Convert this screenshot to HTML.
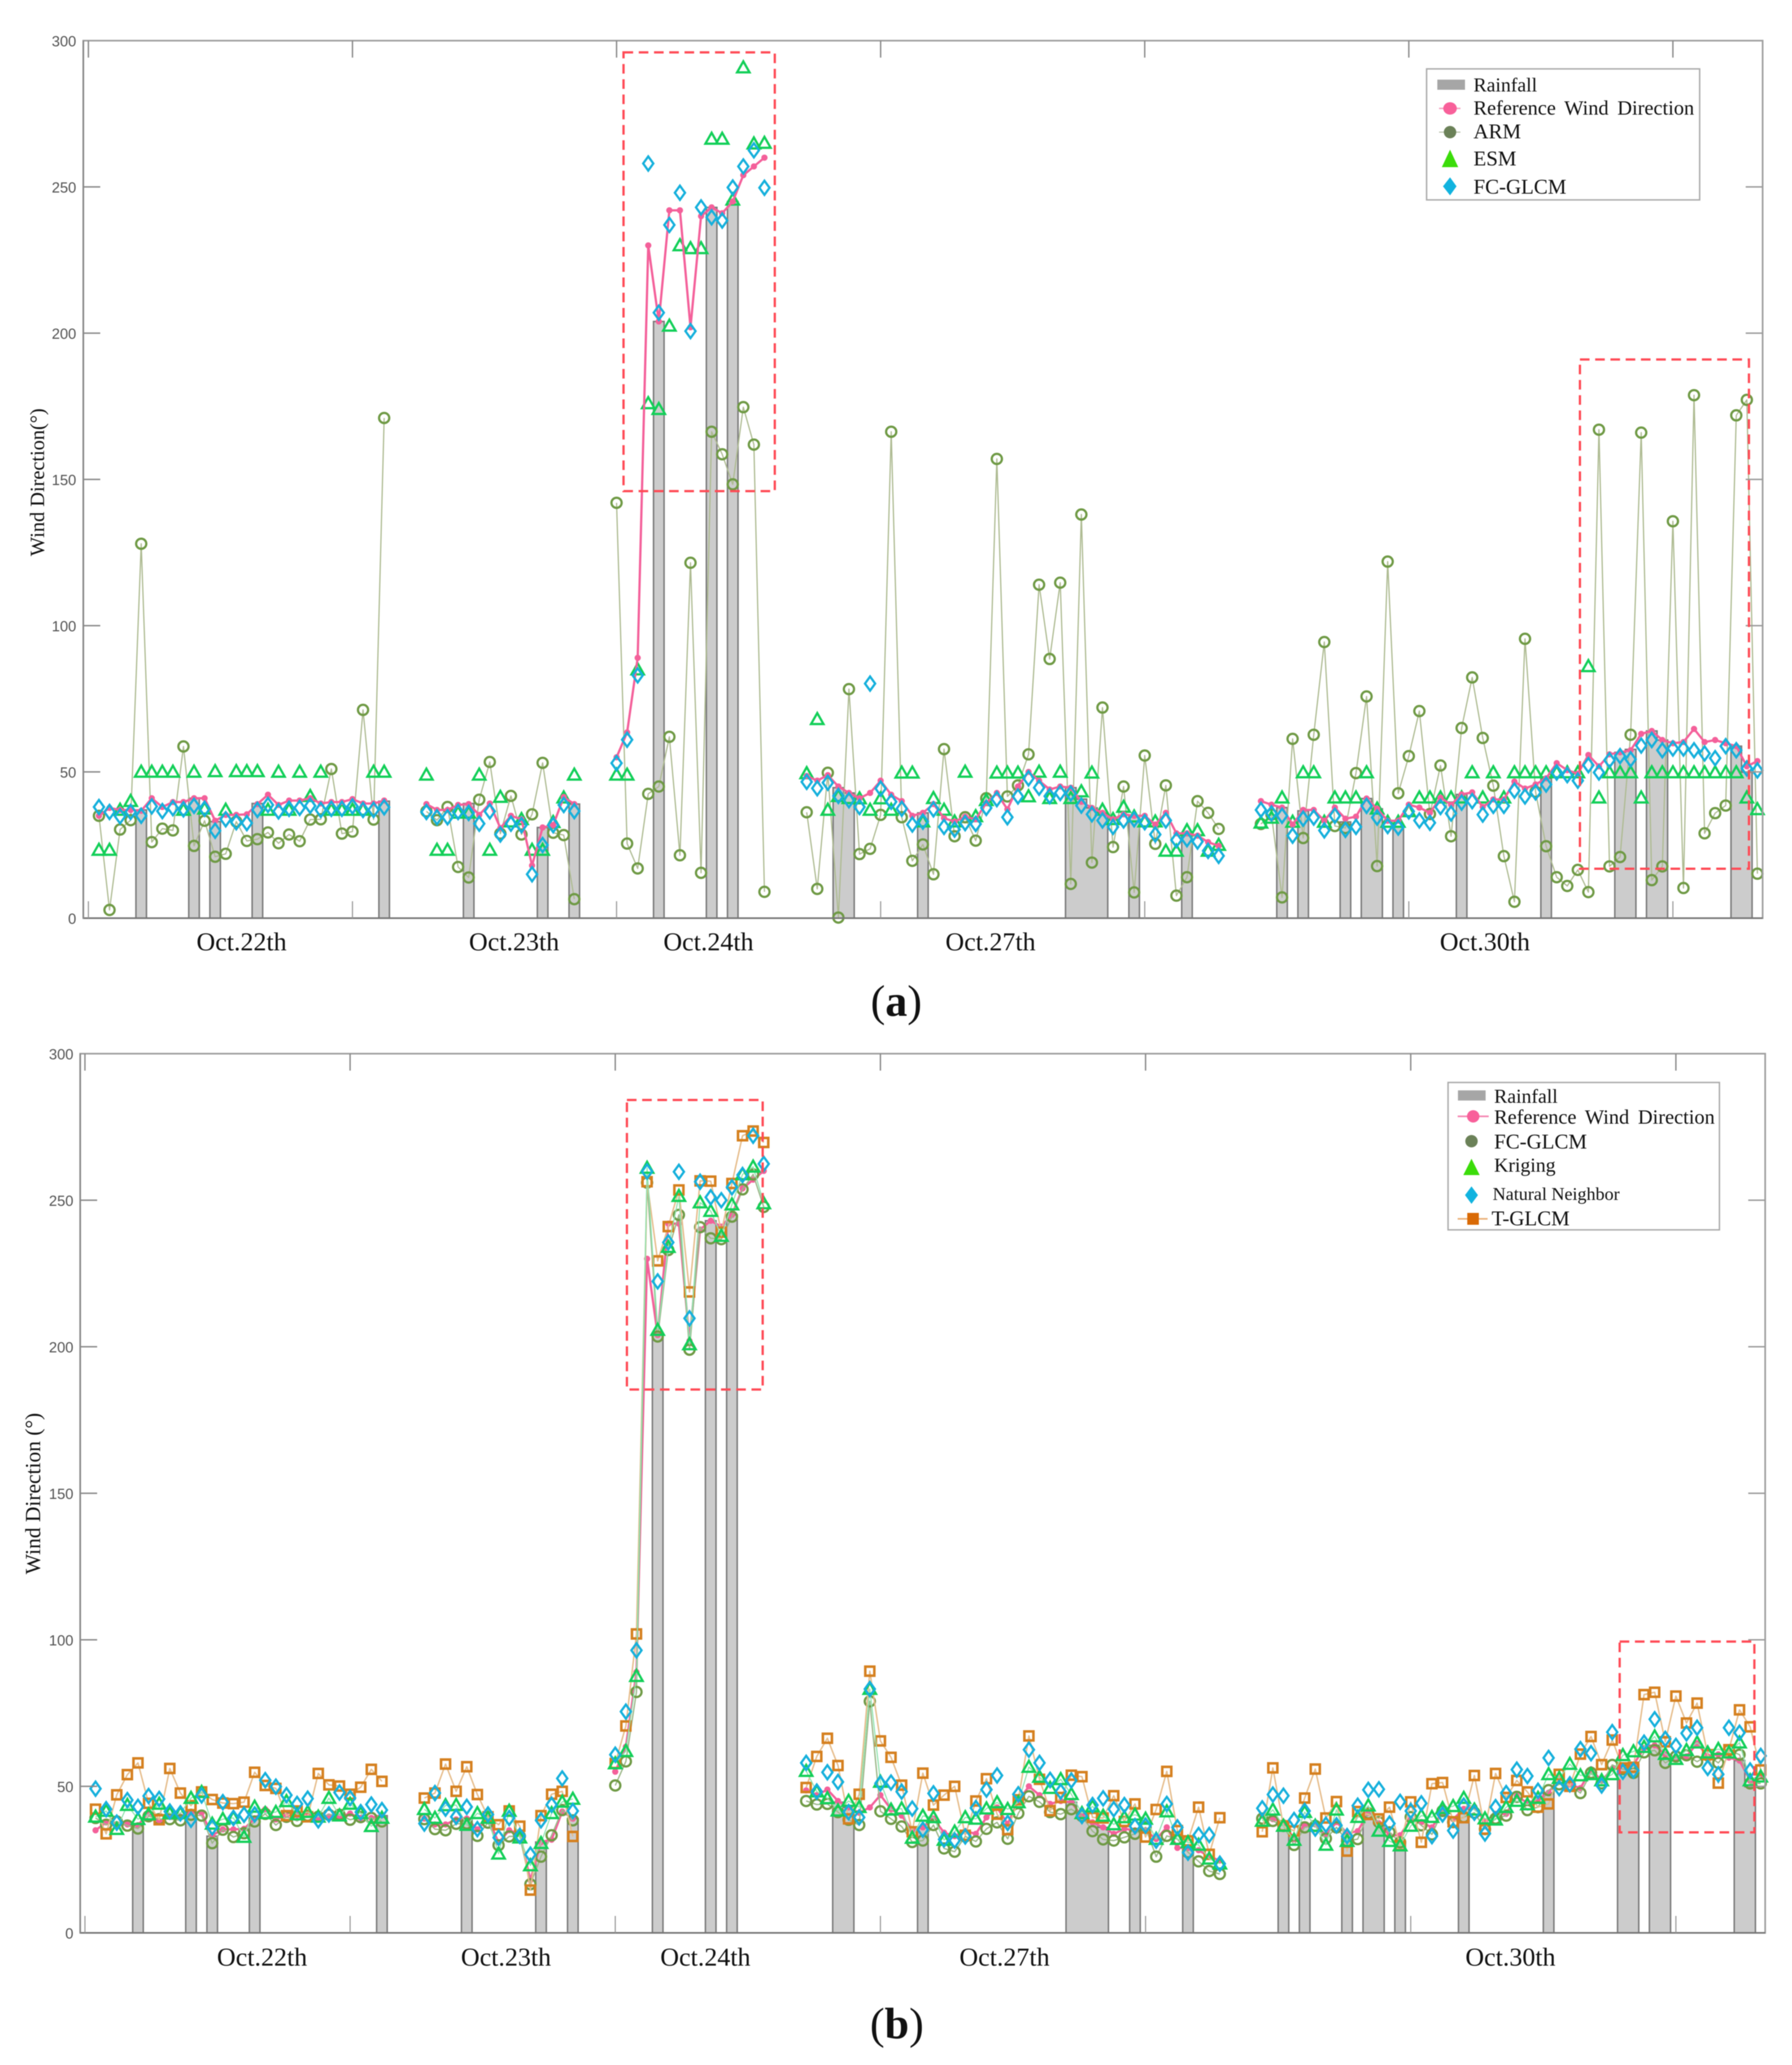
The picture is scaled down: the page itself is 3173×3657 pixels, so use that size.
<!DOCTYPE html>
<html lang="en">
<head>
<meta charset="utf-8">
<title>Wind Direction Comparison</title>
<style>
html,body{margin:0;padding:0;background:#fff;width:3173px;height:3657px;overflow:hidden}
svg{display:block;filter:blur(0.8px)}
.serif{font-family:"Liberation Serif",serif;fill:#111}
.sans{font-family:"Liberation Sans",sans-serif;fill:#555}
</style>
</head>
<body>
<svg id="figure" xmlns="http://www.w3.org/2000/svg" width="3173" height="3657" viewBox="0 0 3173 3657">
  <rect x="0" y="0" width="3173" height="3657" fill="#fff"/>
  <g id="panelA"></g>
  <g id="panelB"></g>

  <text class="serif" transform="translate(78,854) rotate(-90)" text-anchor="middle" font-size="36">Wind Direction(°)</text>
  <text class="serif" transform="translate(71,2645) rotate(-90)" text-anchor="middle" font-size="38">Wind Direction (°)</text>

  <text class="serif" x="1587" y="1799" text-anchor="middle" font-size="78">(<tspan font-weight="bold">a</tspan>)</text>
  <text class="serif" x="1588" y="3610" text-anchor="middle" font-size="78">(<tspan font-weight="bold">b</tspan>)</text>

  <g>
    <rect x="2526" y="122" width="483.5" height="232" fill="#fff" stroke="#aaa" stroke-width="2.5"/>
    <rect x="2545" y="141" width="49" height="18" fill="#a6a6a6"/>
    <text class="serif" x="2609" y="162" font-size="35">Rainfall</text>
    <line x1="2548" y1="192" x2="2586" y2="192" stroke="#f4a0c0" stroke-width="2.5"/>
    <ellipse cx="2567.5" cy="192" rx="12" ry="11" fill="#f8609a"/>
    <text class="serif" x="2609" y="203" font-size="36" word-spacing="6.5">Reference Wind Direction</text>
    <line x1="2548" y1="234" x2="2586" y2="234" stroke="#bbc4ae" stroke-width="2"/>
    <ellipse cx="2567.5" cy="234" rx="11" ry="11" fill="#6b8158"/>
    <text class="serif" x="2609" y="245" font-size="37">ARM</text>
    <polygon points="2567.5,265 2582,296 2553,296" fill="#3bdc0a"/>
    <text class="serif" x="2609" y="293" font-size="37">ESM</text>
    <polygon points="2567.5,314 2579,330 2567.5,346 2555,330" fill="#11b3df"/>
    <text class="serif" x="2609" y="343" font-size="37">FC-GLCM</text>
  </g>

  <g>
    <rect x="2564" y="1917" width="480.5" height="261" fill="#fff" stroke="#aaa" stroke-width="2.5"/>
    <rect x="2581.5" y="1931" width="49" height="18" fill="#a6a6a6"/>
    <text class="serif" x="2645.5" y="1953" font-size="35">Rainfall</text>
    <line x1="2581" y1="1977" x2="2636" y2="1977" stroke="#f58ab4" stroke-width="3"/>
    <ellipse cx="2608.5" cy="1977" rx="11" ry="11" fill="#f8609a"/>
    <text class="serif" x="2645.5" y="1990" font-size="36" word-spacing="6.5">Reference Wind Direction</text>
    <ellipse cx="2605.5" cy="2021" rx="11" ry="11" fill="#6b8158"/>
    <text class="serif" x="2645.5" y="2034" font-size="37">FC-GLCM</text>
    <polygon points="2605.5,2052 2620,2081 2591,2081" fill="#3bdc0a"/>
    <text class="serif" x="2645.5" y="2075" font-size="35">Kriging</text>
    <polygon points="2605.5,2101 2617,2116.5 2605.5,2132 2594,2116.5" fill="#11b3df"/>
    <text class="serif" x="2643" y="2125" font-size="32">Natural Neighbor</text>
    <line x1="2581" y1="2158.5" x2="2634" y2="2158.5" stroke="#eab27c" stroke-width="3"/>
    <rect x="2598" y="2148" width="20.5" height="21" fill="#d96a06"/>
    <text class="serif" x="2641" y="2170" font-size="37">T-GLCM</text>
  </g>
</svg>

<script>
// ---------- shared categories ----------
const dayLabels = ["Oct.22th", "Oct.23th", "Oct.24th", "Oct.27th", "Oct.30th"];
const dayStartIndex = [1, 32, 50, 68, 111];
const yTickValues = [0, 50, 100, 150, 200, 250, 300];
const xTickValues = [0, 25, 50, 75, 100, 125, 150];

// ---------- rainfall ----------
const rainIndex = [5,10,12,16,28,36,43,46,54,59,61,71,72,79,93,94,95,96,99,104,113,115,119,121,122,124,130,138,145,146,148,149,156,157];
const rainValue = [37,41,33,39.2,40,39.2,31,39,204,243,245,44.6,42.8,36,44.6,40.7,37.7,36,35,29,37.8,36.7,32.9,40.9,37.4,31.2,42.3,47.8,56.7,57.7,64,60.9,58.8,49.9];

// ---------- reference wind direction (both panels) ----------
const refWind = [
 [35,37.7,37,37,36.7,41,38,39.7,39.7,41,41,33.3,35.3,35.3,35.5,39,42.2,38.7,40.2,40.2,41,39.2,39.7,39.7,40.7,39.2,39.2,40.2],
 [39,37,37,38.7,39,35.3,39.2,30.8,35,33.8,18,31,31.8,41.4,39],
 [55,63.5,89,230,204,242,242,202,240,243,241,245,254,257,260],
 [48.6,47,48.9,45,42.8,41,42.8,47,42.2,40,35,36,39,34.2,33,34.7,33.8,39.4,42.8,37.2,45,50,47,44,45,44.6,39.8,37.7,36,33.8,35.5,35,35,32,36,29,29,28.2,26,24.7],
 [40,38.8,37.8,32,37,37,33.3,37.8,34,34.7,40.9,37.4,33.3,33.3,38.8,37.8,36,41.2,38.8,42.3,43,38,40.6,40.6,46.7,44.3,45.7,47.8,53,50.6,49.4,55.8,51.9,56,56.7,57.4,63,64,60.9,59.8,60.2,64.7,60.2,60.9,59.8,58.8,51.9,53.7]
];

// ---------- panel (a) series ----------
const armA = [
 [35,2.8,30.3,33.5,128,26,30.6,30,58.7,24.7,33.3,21,22,33,26.4,27,29.3,25.6,28.6,26.3,33.7,33.8,51,28.9,29.6,71.2,33.7,171],
 [36.5,33.5,38,17.5,13.9,40.5,53.4,28.9,41.8,28.6,35.5,53.1,29.2,28.4,6.5],
 [142,25.5,17,42.5,45,62,21.5,121.5,15.5,166.3,158.6,148.3,174.7,161.9,9],
 [36.2,10,49.7,0.2,78.3,21.9,23.7,35.3,166.3,34.5,19.6,25.2,15,57.8,28,34.5,26.5,41,157,41.6,45.4,56,114,88.6,114.7,11.7,138,19,72,24.3,45,8.8,55.6,25.4,45.4,7.7,14,40,36,30.5],
 [32.2,35.4,7.1,61.3,27.4,62.7,94.4,31.5,30.8,49.6,75.8,17.8,121.9,42.7,55.4,70.8,35.6,52.2,28,65,82.3,61.6,45.3,21.2,5.6,95.5,43.2,24.6,14,11,16.5,8.9,167,17.7,20.9,62.7,166,13,17.7,135.7,10.3,178.8,29,35.9,38.5,171.9,177.2,15.2]
];
const esmA = [
 [23.3,23.3,37,40,50,50,50,50,37,50,37.4,50.2,37,50.2,50.2,50.2,37,50,37,50,41.7,50,37,37,37,37,50,50],
 [49,23.3,23.3,36,36,49,23.3,41.4,33,33.8,23.3,23.3,32.8,41.2,49],
 [49,49,85,176,174,202.5,230,229,229,266.4,266.4,245.6,290.8,264.8,265],
 [49.5,68,37,41.7,41,40.9,37,40.9,37,49.7,49.7,33,41,37,33,50,34.8,40.3,49.7,49.7,49.7,41.6,50,41,50,41,43.3,49.7,37,33.8,38,34.7,33,33,23,23,30,30,23,25],
 [32.6,34.3,41.2,32.9,49.8,49.8,32.9,41.2,41.2,41.2,49.8,37.4,32.9,32.9,36.5,41.2,41.2,41.2,41.2,41.2,49.8,41.2,49.8,41.2,49.8,49.8,49.8,49.8,49.8,49.8,49.8,86.1,41.2,49.8,49.8,49.8,41.2,49.8,49.8,49.8,49.8,49.8,49.8,49.8,49.8,49.8,41.2,37.2]
];
const fcDiamondA = [
 [38,36.3,34.8,36.3,35,38.2,36.6,37.6,37.2,38.4,37.4,29.9,33.8,32.8,32.5,37,38.7,36.5,37.4,37.7,38.4,37,37.4,37.4,38.2,37,37,37.9],
 [36.3,34.5,34.5,36.3,36,32.3,36.5,28.6,32.3,31.8,15,25,31.8,38.7,36.6],
 [53,61,83,258,207,237,248,200.7,243,239.6,238.5,249.8,257,262.5,249.7],
 [46.6,44.4,46.3,41.8,40.3,38,80.2,44.3,39.8,37.4,32,33,37.2,31.2,30.3,32.5,32.2,37.7,40.7,34.5,41.6,47.8,44.6,41.7,42.8,42.6,38.5,35.5,33.4,31.2,33.4,33.8,32.8,28.6,33.4,26.7,27,26.2,23,21.3],
 [37,35.8,35,28.2,34,34.4,30,35,30.2,31.2,38.4,34.4,31.5,31,36.5,33.4,32.6,38,35.8,39.5,40,35.4,38.4,38.4,43.6,41.6,43,45.7,49.8,48.9,47,52.3,49.8,54,55.4,54.3,59,60.9,57.4,58,58,57.4,56.3,54.7,58.8,57.4,51.2,50.5]
];

// ---------- panel (b) series ----------
const fcCircleB = [
 [39.2,36.9,38,36.6,35.6,39.8,38.8,38.8,38.4,40.3,40,30.6,35.2,32.7,34,38,40.6,36.8,39.6,38.2,40,39.6,40.3,40.3,38.6,39.5,39.2,38],
 [38.8,35.4,35,37.2,37.3,33.1,37.6,29.9,32.9,33,16.6,26,33.3,41.9,38.4],
 [50.3,58.5,82.2,256,203.5,233,245,199,240.8,237,236.7,244.4,253.7,258.8,247.7],
 [45,43.8,44,41.2,38.6,36.8,79,41.5,38.9,36.3,31,31.5,36.8,28.8,27.7,32.9,31.2,35.5,37.7,32.1,40.8,46.6,44.7,41.2,40.5,42.2,39.9,34.7,31.9,31.5,32.6,33.8,36,26,33.1,32,27.5,24.4,21.1,20.1],
 [39,38.2,36.5,30,36,36.5,32.2,36,31.3,32,40.8,37.8,34.3,30.9,39.5,36.7,33.6,41.6,37.8,39.5,41,35.4,39,40,46.4,41.9,42.9,48.7,50.7,50.3,47.7,54.6,51,57.3,55.9,54.6,61.6,62.3,58,60.2,60.6,58.4,60.6,58,62.3,60.8,51,51]
];
const krigingB = [
 [39.6,41.6,35.4,43.6,38.8,40.4,44,40.8,40.8,46,48,37.2,38.8,39.2,32.7,43,40.8,41.2,44.9,40.4,41.2,39.6,46,40,44,40.8,36.4,39.2],
 [42.2,39.2,43.5,43.6,36.8,40.8,39.2,27,41.6,32.5,23,30.6,40.8,44.7,45.7],
 [57.8,62,87.6,261,205.7,234,251.4,200.8,249.2,246.3,237.8,248.5,258.8,261.4,248.9],
 [55.2,48.2,45.9,41.7,45,42.9,83.2,51.5,42,42.4,32.4,39.9,39.4,31.7,34.5,39.4,38.9,42.4,44.5,42.2,44.5,56.6,53.2,49.4,52.4,47.3,40.8,43.1,39.9,37,39.4,40.3,38.9,32,41.4,32,30.9,30,25.3,23.6],
 [38.2,42,36.5,31.7,41.2,36.5,30,42,31.3,39.5,43.4,34.8,31.3,29.8,36.5,40,39.5,42.5,43.2,46,42,39,38.6,42.9,45,43.8,46,54.1,52.8,57.6,53.7,54.1,52,54.1,60.6,61.9,63.4,67,61,59.3,62.3,64.9,61.5,62.7,61.5,64.9,52,53.3]
];
const naturalNeighborB = [
 [49.2,42.2,37.6,45.3,43,46.7,45.7,41.4,40.8,38.6,46.9,36,44.6,39.2,40.3,40.4,52.1,49.9,47,44,45.8,38.4,40.4,47.9,46,41.2,43.8,41.9],
 [37.3,47.7,42.4,39.6,43,35.4,40.4,32.5,39.2,33.1,26.7,38.4,43.7,52.7,41.6],
 [60.8,75.5,96.4,259.8,222.3,235.6,259.7,209.7,256.3,251,250,254.4,258.6,272,262.4],
 [58,48.2,54.8,51.5,41.2,39.4,83.2,51,51.3,48.2,42.4,35.2,47.6,31.9,31.5,32.9,42.6,48.9,53.7,37.5,47.3,62.5,58,52.2,48.2,52,39.9,43.6,45.9,42.2,43.6,36.4,36.6,31.5,44,36,27.4,33.4,33.4,23.6],
 [42.5,47.2,46.8,38.5,41.6,35.6,36.9,36.7,33,43.4,48.8,49,37.3,44.7,41.6,44.2,33,40.4,34.9,43.4,41,33.9,42.9,47.7,55.7,53.5,48.5,59.7,49.4,50.7,62.7,61.3,50.3,68.5,55,55.4,64.9,72.9,66.2,63.8,68.1,70,56.3,54.1,70,68.3,55.4,60.4]
];
const tGlcmB = [
 [42.2,33.8,47.1,54,58,44.2,38.6,56.1,47.7,43.4,48.1,45.5,44.3,44.1,44.6,54.8,50.3,49.3,40,41.6,39.6,54.4,50.5,50.1,47.3,49.7,55.8,51.7],
 [46,47.7,57.6,48.3,56.7,47.2,39.6,36.9,41.6,36.4,14.6,40,47.3,48.3,32.9],
 [57.8,70.6,102,256.3,229.3,241,253.5,218.7,256.6,256.5,239.1,255.7,272,273.6,269.7],
 [49.6,60.2,66.4,57.1,38.9,47.3,89.3,65.5,59.9,50.4,34.5,54.5,43.6,47,50,33.3,45,52.6,40.5,35.2,45.4,67.2,52.4,41.7,46.2,53.8,53.3,39.4,39.2,46.8,38,44,32.7,42.1,55.1,34.9,31.4,42.9,26.8,39.3],
 [34.5,56.3,36.5,34.8,46,55.9,39.2,44.8,27.9,41.4,40.4,38.9,42.9,29.8,44.7,30.9,50.9,51.3,37.9,39.3,53.7,35.4,54.4,46.2,52,48.1,42.9,44,54.1,50,61,67,57.4,65.8,56.3,56.5,81.3,82.1,65.2,80.8,71.6,78.4,60.8,51.1,62.5,76.1,70.3,55.6]
];

// ---------- highlight box corners, in chart coordinates ----------
const highlightsA = [{from:50.66, to:64.98, low:146, high:296}, {from:141.2, to:157.2, low:16.9, high:191}];
const highlightsB = [{from:51.1, to:63.9, low:185.4, high:284.2}, {from:144.7, to:157.4, low:34.3, high:99.4}];

const SVG_NS = "http://www.w3.org/2000/svg";
function make(parent, tag, attrs, text) {
  const el = document.createElementNS(SVG_NS, tag);
  for (const k in attrs) el.setAttribute(k, attrs[k]);
  if (text !== undefined) el.textContent = text;
  parent.appendChild(el);
  return el;
}

function markerShape(g, kind, x, y, style, seriesName) {
  let el;
  if (kind === "circle") {
    el = make(g, "circle", {cx: x, cy: y, r: 9, fill: "none", stroke: style.color, "stroke-width": 4});
  } else if (kind === "dot") {
    el = make(g, "circle", {cx: x, cy: y, r: 5.5, fill: style.color});
  } else if (kind === "triangle") {
    el = make(g, "polygon", {points: (x) + "," + (y - 11) + " " + (x + 11) + "," + (y + 8.5) + " " + (x - 11) + "," + (y + 8.5), fill: "none", stroke: style.color, "stroke-width": 4});
  } else if (kind === "diamond") {
    el = make(g, "polygon", {points: x + "," + (y - 12.5) + " " + (x + 9) + "," + y + " " + x + "," + (y + 12.5) + " " + (x - 9) + "," + y, fill: "none", stroke: style.color, "stroke-width": 4});
  } else {
    el = make(g, "rect", {x: x - 8, y: y - 8, width: 16, height: 16, fill: "none", stroke: style.color, "stroke-width": 4.5});
  }
  
  
}

function drawPanel(root, cfg) {
  const xScale = i => cfg.x0 + cfg.step * i;
  const yScale = v => cfg.y0 - (cfg.y0 - cfg.y300) * v / 300;

  // rainfall: fill and stepped outline per contiguous run
  const rainGroup = make(root, "g", {});
  
  
  let runs = [];
  rainIndex.forEach((idx, k) => {
    const last = runs[runs.length - 1];
    if (last && last[last.length - 1].idx === idx - 1) last.push({idx: idx, val: rainValue[k]});
    else runs.push([{idx: idx, val: rainValue[k]}]);
  });
  runs.forEach(run => {
    let d = "M" + (xScale(run[0].idx) - cfg.step / 2) + " " + cfg.y0;
    run.forEach(b => {
      d += " L" + (xScale(b.idx) - cfg.step / 2) + " " + yScale(b.val);
      d += " L" + (xScale(b.idx) + cfg.step / 2) + " " + yScale(b.val);
    });
    d += " L" + (xScale(run[run.length - 1].idx) + cfg.step / 2) + " " + cfg.y0;
    const bar = make(rainGroup, "path", {d: d, fill: "#cccccc", stroke: "#7a7a7a", "stroke-width": 2.6});
    
    
  });

  // series
  cfg.series.forEach(s => {
    const g = make(root, "g", {});
    
    
    s.values.forEach((day, d) => {
      const pts = day.map((v, k) => [xScale(dayStartIndex[d] + k), yScale(v)]);
      if (s.line) {
        const line = make(g, "polyline", {points: pts.map(p => p.join(",")).join(" "), fill: "none", stroke: s.line, "stroke-width": s.lineWidth, "stroke-linejoin": "round"});
        
        
      }
      pts.forEach(p => markerShape(g, s.marker, p[0], p[1], {color: s.color}, s.name));
    });
  });

  // axes frame
  const frame = make(root, "rect", {x: cfg.left, y: cfg.y300, width: cfg.right - cfg.left, height: cfg.y0 - cfg.y300, fill: "none", stroke: "#a0a0a0", "stroke-width": 3});
  
  
  const xAxis = make(root, "line", {x1: cfg.left, y1: cfg.y0, x2: cfg.right, y2: cfg.y0, stroke: "#777", "stroke-width": 3});
  
  
  const yAxis = make(root, "line", {x1: cfg.left, y1: cfg.y300, x2: cfg.left, y2: cfg.y0, stroke: "#8a8a8a", "stroke-width": 3});
  
  

  // y ticks
  yTickValues.forEach(v => {
    const y = yScale(v);
    if (v !== 0 && v !== 300) {
      const tl = make(root, "line", {x1: cfg.left, y1: y, x2: cfg.left + 30, y2: y, stroke: "#888", "stroke-width": 2.6});
      
      
      const tr = make(root, "line", {x1: cfg.right - 30, y1: y, x2: cfg.right, y2: y, stroke: "#999", "stroke-width": 2.6});
      
      
    }
    const label = make(root, "text", {x: cfg.labelRight, y: y + 10, "text-anchor": "end", "font-size": 26, class: "sans"}, String(v));
    
    
  });

  // x ticks
  xTickValues.forEach(v => {
    const x = xScale(v);
    const tb = make(root, "line", {x1: x, y1: cfg.y0 - 30, x2: x, y2: cfg.y0, stroke: "#999", "stroke-width": 2});
    
    
    const tt = make(root, "line", {x1: x, y1: cfg.y300, x2: x, y2: cfg.y300 + 30, stroke: "#888", "stroke-width": 2.4});
    
    
  });

  // day labels
  dayLabels.forEach((name, k) => {
    const dl = make(root, "text", {x: xScale(cfg.dayCenters[k]), y: cfg.dayBaseline, "text-anchor": "middle", "font-size": 46, class: "serif"}, name);
    
    
  });

  // highlight boxes
  cfg.highlights.forEach(h => {
    const box = make(root, "rect", {x: xScale(h.from), y: yScale(h.high), width: xScale(h.to) - xScale(h.from), height: yScale(h.low) - yScale(h.high), fill: "none", stroke: "#ff4a55", "stroke-width": 4, "stroke-dasharray": "17 10"});
    
    
  });
}

const pinkStyle = {line: "#f4609a", lineWidth: 4, color: "#f4609a", marker: "dot", name: "reference-wind-direction", values: refWind};

drawPanel(document.getElementById("panelA"), {
  x0: 156.5, step: 18.704, y0: 1626, y300: 72, left: 147.5, right: 3121, labelRight: 135,
  dayCenters: [14.5, 40.3, 58.7, 85.4, 132.2], dayBaseline: 1683,
  highlights: highlightsA,
  series: [
    {name: "arm", values: armA, marker: "circle", color: "#6f9a45", line: "#aebb92", lineWidth: 2.2},
    {name: "esm", values: esmA, marker: "triangle", color: "#12cf58"},
    pinkStyle,
    {name: "fc-glcm", values: fcDiamondA, marker: "diamond", color: "#15b0dc"}
  ]
});

drawPanel(document.getElementById("panelB"), {
  x0: 150.4, step: 18.78, y0: 3423, y300: 1866, left: 142, right: 3125.5, labelRight: 130,
  dayCenters: [16.7, 39.7, 58.5, 86.7, 134.4], dayBaseline: 3481,
  highlights: highlightsB,
  series: [
    pinkStyle,
    {name: "fc-glcm", values: fcCircleB, marker: "circle", color: "#6f9a45", line: "#9db88a", lineWidth: 2.4},
    {name: "t-glcm", values: tGlcmB, marker: "square", color: "#d5801f", line: "#e6bd8c", lineWidth: 2.6},
    {name: "kriging", values: krigingB, marker: "triangle", color: "#12cf58", line: "#8fe3ae", lineWidth: 2},
    {name: "natural-neighbor", values: naturalNeighborB, marker: "diamond", color: "#15b0dc"}
  ]
});
</script>
</body>
</html>
